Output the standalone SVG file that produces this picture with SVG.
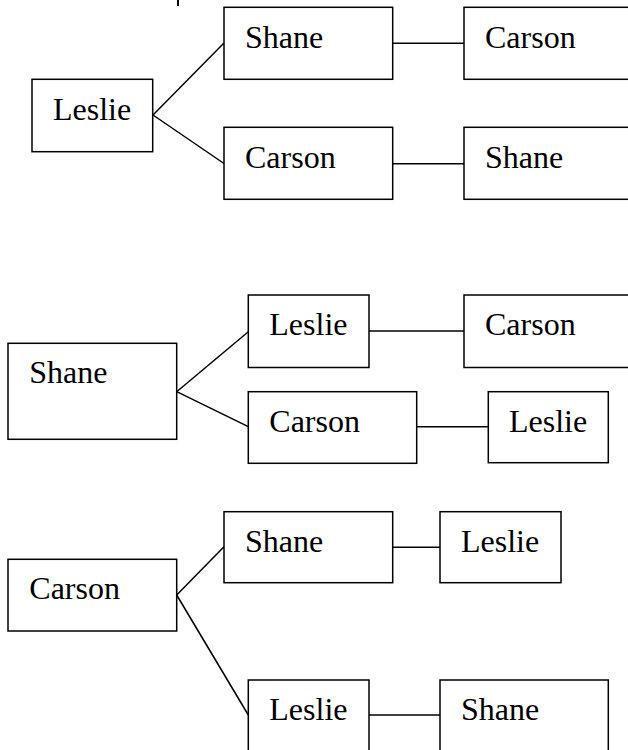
<svg xmlns="http://www.w3.org/2000/svg" width="628" height="750" viewBox="0 0 628 750">
<style>
rect{fill:#fff;stroke:#000;stroke-width:1.5}
.c line{stroke:#000;stroke-width:1.5}
text{font-family:"Liberation Serif","Times New Roman",serif;font-size:32px;fill:#000}
</style>
<rect x="-1" y="-1" width="630" height="752" style="stroke:none;fill:#fff"/>
<line x1="178" y1="0" x2="178" y2="6" stroke="#000" stroke-width="2"/>
<g class="c" id="connectors">
<line x1="153" y1="115" x2="224" y2="43"/>
<line x1="153" y1="115" x2="224" y2="163.5"/>
<line x1="393" y1="43.3" x2="464" y2="43.3"/>
<line x1="393" y1="163.7" x2="464" y2="163.7"/>
<line x1="176.7" y1="391.7" x2="248.3" y2="331.7"/>
<line x1="176.7" y1="391.7" x2="248.3" y2="426.7"/>
<line x1="369" y1="331" x2="464" y2="331"/>
<line x1="416.7" y1="426.7" x2="488.3" y2="426.7"/>
<line x1="176.7" y1="595" x2="224" y2="546.7"/>
<line x1="176.7" y1="595" x2="248.3" y2="715"/>
<line x1="392.7" y1="547.3" x2="440" y2="547.3"/>
<line x1="369" y1="715" x2="440" y2="715"/>
</g>
<g id="n1"><rect x="32" y="79.3" width="120.7" height="72.4"/><text x="53" y="120">Leslie</text></g>
<g id="n2"><rect x="224" y="7.3" width="168.7" height="72"/><text x="245" y="48.3">Shane</text></g>
<g id="n3"><rect x="464" y="7.3" width="170" height="72"/><text x="485" y="48.3">Carson</text></g>
<g id="n4"><rect x="224" y="127.3" width="168.7" height="72"/><text x="245" y="168.3">Carson</text></g>
<g id="n5"><rect x="464" y="127.3" width="170" height="72"/><text x="485" y="168.3">Shane</text></g>
<g id="n6"><rect x="8" y="343.3" width="168.7" height="96"/><text x="29.3" y="383.3">Shane</text></g>
<g id="n7"><rect x="248.3" y="295" width="120.7" height="72.5"/><text x="269.3" y="335">Leslie</text></g>
<g id="n8"><rect x="464" y="295" width="170" height="72.5"/><text x="485" y="335">Carson</text></g>
<g id="n9"><rect x="248.3" y="391.7" width="168.4" height="71.6"/><text x="269.3" y="431.7">Carson</text></g>
<g id="n10"><rect x="488.3" y="391.7" width="120" height="71"/><text x="509" y="431.7">Leslie</text></g>
<g id="n11"><rect x="8" y="559.3" width="168.7" height="71.7"/><text x="29.3" y="599.3">Carson</text></g>
<g id="n12"><rect x="224" y="511.7" width="168.7" height="71"/><text x="245" y="551.7">Shane</text></g>
<g id="n13"><rect x="440" y="511.7" width="121" height="71"/><text x="461" y="551.7">Leslie</text></g>
<g id="n14"><rect x="248.3" y="680" width="120.7" height="80"/><text x="269.3" y="720">Leslie</text></g>
<g id="n15"><rect x="440" y="680" width="168.3" height="80"/><text x="461" y="720">Shane</text></g>
</svg>
